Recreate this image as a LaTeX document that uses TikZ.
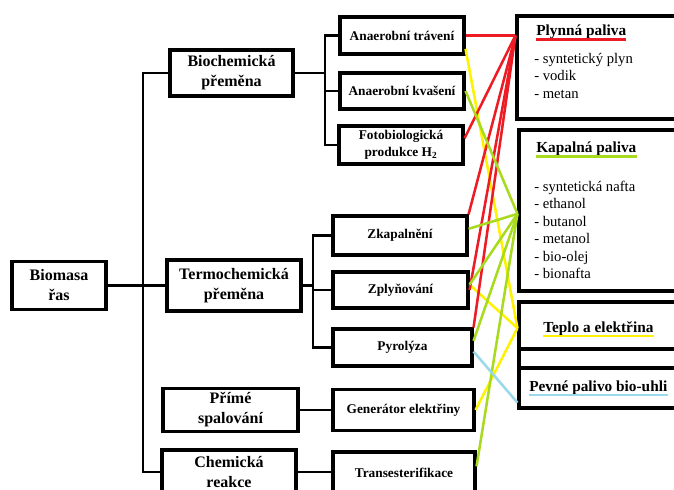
\documentclass[tikz,border=0pt]{standalone}
\usepackage{fontspec}
\setmainfont{Liberation Serif}
\usepackage{xcolor}
\usepackage{tikz}

\definecolor{cervena}{RGB}{237,28,36}
\definecolor{zluta}{RGB}{255,242,0}
\definecolor{zelena}{RGB}{168,218,32}
\definecolor{modra}{RGB}{153,217,234}

\begin{document}
\begin{tikzpicture}[
    x=0.75pt, y=-0.75pt,
    hlavni/.style={rectangle, draw, line width=2.3pt, fill=white, inner sep=0pt, align=center, font=\fontsize{12}{15}\selectfont\bfseries},
    proces/.style={rectangle, draw, line width=2.3pt, fill=white, inner sep=0pt, align=center, font=\fontsize{10}{12.75}\selectfont\bfseries},
    produkt/.style={rectangle, draw, line width=2.3pt, fill=white, minimum width=135.75pt},
    nadpis/.style={anchor=base west, inner sep=0pt, font=\fontsize{11.5}{14}\selectfont\bfseries},
    polozka/.style={anchor=base west, inner sep=0pt, font=\fontsize{11}{13}\selectfont},
    vetev/.style={line width=2.2pt},
    spoj/.style={line width=1.9pt}
]
    \useasboundingbox (0,0) rectangle (674,489);
    \clip (0,0) rectangle (674,489);

    % vychozi surovina a hlavni premeny
    \node[hlavni, minimum width=70.5pt, minimum height=36pt] (biomasa) at (59,285.5) {Biomasa\\řas};
    \node[hlavni, minimum width=92.25pt, minimum height=34.5pt] (biochem) at (231.5,73) {Biochemická\\přeměna};
    \node[hlavni, minimum width=100.5pt, minimum height=38.25pt] (termo) at (234,285.5) {Termochemická\\přeměna};
    \node[hlavni, minimum width=101.25pt, minimum height=32.25pt] (prime) at (230.5,410) {Přímé\\spalování};
    \node[hlavni, minimum width=100.5pt, minimum height=33pt] (chem) at (229,472) {Chemická\\reakce};

    % procesy
    \node[proces, minimum width=93pt, minimum height=27.75pt] (trav) at (402,35.5) {Anaerobní trávení};
    \node[proces, minimum width=93pt, minimum height=27pt] (kvas) at (402,91) {Anaerobní kvašení};
    \node[proces, minimum width=93pt, minimum height=28.5pt] (foto) at (401,145) {Fotobiologická\\produkce H\textsubscript{2}};
    \node[proces, minimum width=100.5pt, minimum height=29.25pt] (zkap) at (400,235.5) {Zkapalnění};
    \node[proces, minimum width=101.25pt, minimum height=27pt] (zply) at (400.5,290) {Zplyňování};
    \node[proces, minimum width=104.25pt, minimum height=27.75pt] (pyro) at (402.5,347.5) {Pyrolýza};
    \node[proces, minimum width=105.75pt, minimum height=30.75pt] (gen) at (403.5,410) {Generátor elektřiny};
    \node[proces, minimum width=106.5pt, minimum height=31.5pt] (trans) at (404,473) {Transesterifikace};

    % produkty
    \node[produkt, minimum width=137.25pt, minimum height=77.25pt] (plyn) at (608.5,67.5) {};
    \node[produkt, minimum height=120.75pt] (kap) at (609.5,210.5) {};
    \node[produkt, minimum height=35.25pt] (teplo) at (609.5,325.5) {};
    \node[produkt, minimum height=14.25pt] (mezera) at (609.5,358.5) {};
    \node[produkt, minimum height=30pt] (pevne) at (609.5,388) {};

    \node[nadpis] (plynNadpis) at (536,35.5) {Plynná paliva};
    \draw[line width=2.2pt, cervena] ([yshift=-3pt]plynNadpis.base west) -- ([yshift=-3pt]plynNadpis.base east);
    \foreach \txt [count=\i] in {syntetický plyn, vodik, metan}
        \node[polozka] (plyn\i) at (534,45.5+17.5*\i) {- \txt};

    \node[nadpis] (kapNadpis) at (536,152) {Kapalná paliva};
    \draw[line width=2.2pt, zelena] ([yshift=-3.5pt]kapNadpis.base west) -- ([yshift=-3.5pt]kapNadpis.base east);
    \foreach \txt [count=\i] in {syntetická nafta, ethanol, butanol, metanol, bio-olej, bionafta}
        \node[polozka] (kap\i) at (534,173.5+17.5*\i) {- \txt};

    \node[nadpis] (teploNadpis) at (543,332) {Teplo a elektřina};
    \draw[line width=2.2pt, zluta] ([yshift=-3pt]teploNadpis.base west) -- ([yshift=-3pt]teploNadpis.base east);

    \node[nadpis] (pevneNadpis) at (529,391) {Pevné palivo bio-uhli};
    \draw[line width=2.2pt, modra] ([yshift=-3pt]pevneNadpis.base west) -- ([yshift=-3pt]pevneNadpis.base east);

    % strom
    \coordinate (kmen) at (143,285.5);
    \coordinate (bioUzel) at (325,73);
    \coordinate (termoUzel) at (313,285.5);
    \draw[vetev] (biomasa) -- (termo);
    \draw[vetev] (biochem.west) -| (kmen) |- (chem.west);
    \draw[vetev] (biochem) -- (bioUzel);
    \draw[vetev] (trav) -| (bioUzel) |- (foto);
    \draw[vetev] (kvas) -- (kvas -| bioUzel);
    \draw[vetev] (termo) -- (termoUzel);
    \draw[vetev] (zkap) -| (termoUzel) |- (pyro);
    \draw[vetev] (zply) -- (zply -| termoUzel);
    \draw[vetev] (prime) -- (gen);
    \draw[vetev] (chem) -- (chem -| trans.west);

    % vazby na produkty
    \coordinate (plynVstup) at (plyn.west |- trav.east);
    \coordinate (kapVstup) at ([yshift=-2.5pt]kap.west);
    \coordinate (teploVstup) at ([yshift=-2pt]teplo.west);
    \coordinate (pevneVstup) at ([yshift=-11pt]pevne.west);

    \draw[spoj, zluta] ([yshift=5pt]trav.south east) -- (teploVstup);
    \draw[spoj, zluta] ([yshift=4pt]zply.east) -- (teploVstup);
    \draw[spoj, zluta] (gen.east) -- (teploVstup);

    \draw[spoj, cervena] (trav.east) -- (plynVstup);
    \draw[spoj, cervena] ([yshift=5pt]foto.east) -- (plynVstup);
    \draw[spoj, cervena] (zkap.north east) -- (plynVstup);
    \draw[spoj, cervena] (zply.east) -- (plynVstup);
    \draw[spoj, cervena] (pyro.north east) -- (plynVstup);

    \draw[spoj, zelena] (kvas.east) -- (kapVstup);
    \draw[spoj, zelena] ([yshift=5pt]zkap.east) -- (kapVstup);
    \draw[spoj, zelena] ([yshift=4pt]zply.east) -- (kapVstup);
    \draw[spoj, zelena] ([yshift=5pt]pyro.east) -- (kapVstup);
    \draw[spoj, zelena] ([yshift=5pt]trans.east) -- (kapVstup);

    \draw[spoj, modra] ([yshift=-3pt]pyro.east) -- (pevneVstup);
\end{tikzpicture}
\end{document}
